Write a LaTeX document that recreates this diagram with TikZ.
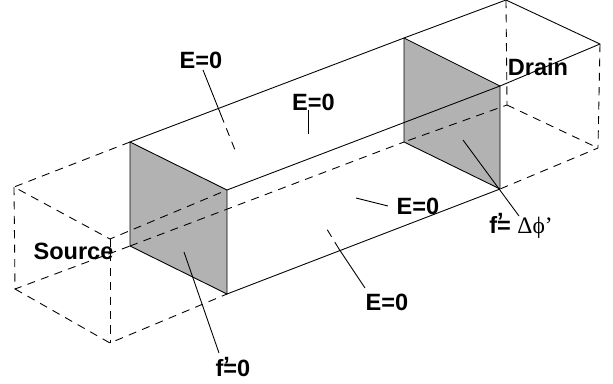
\documentclass[tikz,border=0pt]{standalone}
\usepackage{fontspec}
\setmainfont{Liberation Sans}
\newfontfamily\chSymbol{Liberation Serif}
\usepackage{tikz}
\definecolor{chFace}{HTML}{B2B2B2}
\tikzset{
    chSolid/.style={draw=black, line width=0.5pt, line join=round},
    chDashed/.style={chSolid, dash pattern=on 4.6pt off 3.6pt},
    chFaceBox/.style={chSolid, fill=chFace},
    chLabel/.style={font=\fontsize{13.4}{15}\selectfont\bfseries, inner sep=0pt, text=black}
}

\begin{document}
\begin{tikzpicture}[x=0.02cm, y=-0.02cm]
    \useasboundingbox (0,0) rectangle (613,383);

    % Source side
    \coordinate (srcBackTop) at (14,187);
    \coordinate (srcBackBot) at (15,289);
    \coordinate (srcFrontTop) at (110,239);
    \coordinate (srcFrontBot) at (110,343);
    \coordinate (leftA) at (130,142);
    \coordinate (leftB) at (227,190);
    \coordinate (leftC) at (227,294);
    \coordinate (leftD) at (130,246);
    % Drain side
    \coordinate (rightE) at (404,38);
    \coordinate (rightF) at (500,86);
    \coordinate (rightG) at (500,189);
    \coordinate (rightH) at (404,142);
    \coordinate (drnBackTop) at (506,0);
    \coordinate (drnFrontTop) at (600,44);
    \coordinate (drnBackBot) at (507,105);
    \coordinate (drnFrontBot) at (598,148);

    % Gray end faces
    \draw[chFaceBox] (leftA) -- (leftB) -- (leftC) -- (leftD) -- cycle;
    \draw[chFaceBox] (rightE) -- (rightF) -- (rightG) -- (rightH) -- cycle;

    % Channel edges
    \draw[chSolid] (leftA) -- (rightE) -- (drnBackTop) -- (drnFrontTop) -- (rightF) -- (leftB);
    \draw[chSolid] (leftC) -- (rightG);
    \draw[chDashed] (leftD) -- (rightH);

    % Source contact
    \draw[chDashed] (leftA) -- (srcBackTop) -- (srcFrontTop) -- (leftB);
    \draw[chDashed] (srcBackTop) -- (srcBackBot) -- (leftD);
    \draw[chDashed] (srcBackBot) -- (srcFrontBot) -- (leftC);
    \draw[chDashed] (srcFrontTop) -- (srcFrontBot);

    % Drain contact
    \draw[chDashed] (drnBackTop) -- (drnBackBot) -- (rightH);
    \draw[chDashed] (drnFrontTop) -- (drnFrontBot) -- (rightG);
    \draw[chDashed] (drnBackBot) -- (drnFrontBot);

    % Labels
    \node[chLabel] (eTop) at (201,60) {E=0};
    \node[chLabel] (eMid) at (313.5,102) {E=0};
    \node[chLabel] (eRight) at (418,206) {E=0};
    \node[chLabel] (eBottom) at (387,302) {E=0};
    \node[chLabel] (source) at (73.5,251) {Source};
    \node[chLabel] (drain) at (538,67) {Drain};
    \node[chLabel] (fLeft) at (233,367) {f\rlap{\raisebox{2pt}{’}}=0};
    \node[chLabel] (fRight) at (521,226) {f\rlap{\raisebox{2pt}{’}}= {\chSymbol\mdseries Δϕ’}};

    % Leaders
    \coordinate (eTopStart) at (203,70);
    \coordinate (eTopKnee) at (221,115);
    \coordinate (eTopEnd) at (235,150);
    \coordinate (eMidStart) at (308,110);
    \coordinate (eMidEnd) at (308,134);
    \coordinate (eRightStart) at (388,206);
    \coordinate (eRightEnd) at (356,198);
    \coordinate (eBotStart) at (365,288);
    \coordinate (eBotKnee) at (339,249);
    \coordinate (eBotEnd) at (325,226);
    \coordinate (fLeftStart) at (219,353);
    \coordinate (fLeftEnd) at (184,252);
    \coordinate (fRightStart) at (519,216);
    \coordinate (fRightEnd) at (463,140);

    \draw[chSolid] (eTopStart) -- (eTopKnee);
    \draw[chDashed] (eTopKnee) -- (eTopEnd);
    \draw[chSolid] (eMidStart) -- (eMidEnd);
    \draw[chSolid] (eRightStart) -- (eRightEnd);
    \draw[chSolid] (eBotStart) -- (eBotKnee);
    \draw[chDashed] (eBotKnee) -- (eBotEnd);
    \draw[chSolid] (fLeftStart) -- (fLeftEnd);
    \draw[chSolid] (fRightStart) -- (fRightEnd);
\end{tikzpicture}
\end{document}
